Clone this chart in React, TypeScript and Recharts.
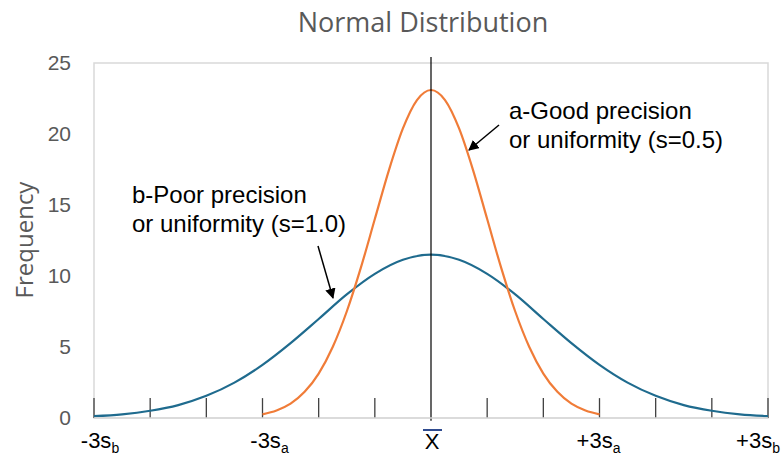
import React from 'react';
import { ComposedChart, Line, XAxis, YAxis, ReferenceLine, ReferenceArea } from 'recharts';

// x positions in units of s_b (s_a = 0.5 s_b)
const poorX = [-3, -2.75, -2.5, -2.25, -2, -1.75, -1.5, -1.25, -1, -0.75, -0.5, -0.25, 0,
  0.25, 0.5, 0.75, 1, 1.25, 1.5, 1.75, 2, 2.25, 2.5, 2.75, 3];
const poorY = [0.13, 0.26, 0.51, 0.91, 1.56, 2.49, 3.74, 5.27, 6.97, 8.7, 10.15, 11.14, 11.5,
  11.14, 10.15, 8.7, 6.97, 5.27, 3.74, 2.49, 1.56, 0.91, 0.51, 0.26, 0.13];

const goodX = [-1.5, -1.375, -1.25, -1.125, -1, -0.875, -0.75, -0.625, -0.5, -0.375, -0.25, -0.125, 0,
  0.125, 0.25, 0.375, 0.5, 0.625, 0.75, 0.875, 1, 1.125, 1.25, 1.375, 1.5];
const goodY = [0.26, 0.53, 1.01, 1.84, 3.13, 5.0, 7.5, 10.57, 14.01, 17.44, 20.39, 22.39, 23.1,
  22.39, 20.39, 17.44, 14.01, 10.57, 7.5, 5.0, 3.13, 1.84, 1.01, 0.53, 0.26];

const minorTicks = [-3, -2.5, -2, -1.5, -1, -0.5, 0.5, 1, 1.5, 2, 2.5, 3];
const labelTicks = [-3, -1.5, 0, 1.5, 3];
const tickText: Record<string, [string, string]> = {
  '-3': ['-3s', 'b'],
  '-1.5': ['-3s', 'a'],
  '1.5': ['+3s', 'a'],
  '3': ['+3s', 'b'],
};
const yTicks = [0, 5, 10, 15, 20, 25];

const poorData = poorX.map((x, i) => ({ x, y: poorY[i] }));
const goodData = goodX.map((x, i) => ({ x, y: goodY[i] }));

const FONT = '"Liberation Sans", Arial, sans-serif';

function XTick(props: any) {
  const { x, y, payload } = props;
  const v = payload.value;
  if (v === 0) {
    return (
      <g>
        <line x1={x - 8} x2={x + 11} y1={y + 12} y2={y + 12} stroke="#2f4b8f" strokeWidth={2} />
        <text x={x + 1} y={y + 31} textAnchor="middle" fontFamily={FONT} fontSize={22} fill="#000">X</text>
      </g>
    );
  }
  const [main, sub] = tickText[String(v)];
  const dx = v === -3 ? 6 : v === -1.5 ? 7 : v === 1.5 ? -1 : -10;
  return (
    <text x={x + dx} y={y + 30} textAnchor="middle" fontFamily={FONT} fontSize={22} fill="#000">
      {main}
      <tspan fontSize={14} dy={5}>{sub}</tspan>
    </text>
  );
}

export default function App() {
  return (
    <div style={{ position: 'fixed', left: 0, top: 0, width: 782, height: 456, background: '#fff' }}>
      <ComposedChart width={782} height={456} margin={{ top: 63, right: 14, bottom: 0, left: 0 }}>
        <XAxis
          type="number"
          dataKey="x"
          domain={[-3, 3]}
          ticks={labelTicks}
          interval={0}
          height={38}
          tickLine={false}
          tickSize={0}
          tickMargin={0}
          axisLine={{ stroke: '#d9d9d9', strokeWidth: 1.5 }}
          tick={<XTick />}
          allowDataOverflow
        />
        <YAxis
          type="number"
          domain={[0, 25]}
          ticks={yTicks}
          width={94}
          tickLine={false}
          axisLine={false}
          tickSize={0}
          tickMargin={23}
          tick={{ fill: '#595959', fontSize: 21, fontFamily: FONT }}
        />
        <ReferenceArea x1={-3} x2={3} y1={0} y2={25} fill="none" stroke="#d9d9d9" strokeWidth={1.5} />
        {minorTicks.map((t) => (
          <ReferenceLine
            key={t}
            segment={[{ x: t, y: 0 }, { x: t, y: 1.4 }]}
            stroke="#404040"
            strokeWidth={1.3}
          />
        ))}
        <Line
          data={poorData}
          dataKey="y"
          type="monotone"
          stroke="#1f6b8e"
          strokeWidth={2.2}
          dot={false}
          isAnimationActive={false}
        />
        <Line
          data={goodData}
          dataKey="y"
          type="monotone"
          stroke="#f07c38"
          strokeWidth={2.2}
          dot={false}
          isAnimationActive={false}
        />
        <ReferenceLine
          segment={[{ x: 0, y: 25.42 }, { x: 0, y: -0.2 }]}
          stroke="#000"
          strokeWidth={1.2}
          ifOverflow="visible"
        />
      </ComposedChart>
      <svg width={782} height={456} style={{ position: 'absolute', left: 0, top: 0, pointerEvents: 'none' }}>
        <defs>
          <marker id="arr" viewBox="0 0 10 10" refX="9" refY="5" markerWidth="7" markerHeight="7" orient="auto-start-reverse">
            <path d="M0,0 L10,5 L0,10 z" fill="#000" />
          </marker>
        </defs>
        <text x={423} y={32} textAnchor="middle" fontFamily='"Open Sans", sans-serif' fontSize={27} fill="#595959">
          Normal Distribution
        </text>
        <text
          x={0}
          y={0}
          transform="translate(33,240) rotate(-90)"
          textAnchor="middle"
          fontFamily='"Open Sans", sans-serif'
          fontSize={24}
          fill="#595959"
        >
          Frequency
        </text>
        <text fontFamily={FONT} fontSize={24} fill="#000">
          <tspan x={509} y={119}>a-Good precision</tspan>
          <tspan x={509} y={148}>or uniformity (s=0.5)</tspan>
        </text>
        <text fontFamily={FONT} fontSize={24} fill="#000">
          <tspan x={132} y={203}>b-Poor precision</tspan>
          <tspan x={132} y={232}>or uniformity (s=1.0)</tspan>
        </text>
        <line x1={499} y1={125} x2={469} y2={150} stroke="#000" strokeWidth={1.5} markerEnd="url(#arr)" />
        <line x1={318} y1={246} x2={333} y2={298} stroke="#000" strokeWidth={1.5} markerEnd="url(#arr)" />
      </svg>
    </div>
  );
}
